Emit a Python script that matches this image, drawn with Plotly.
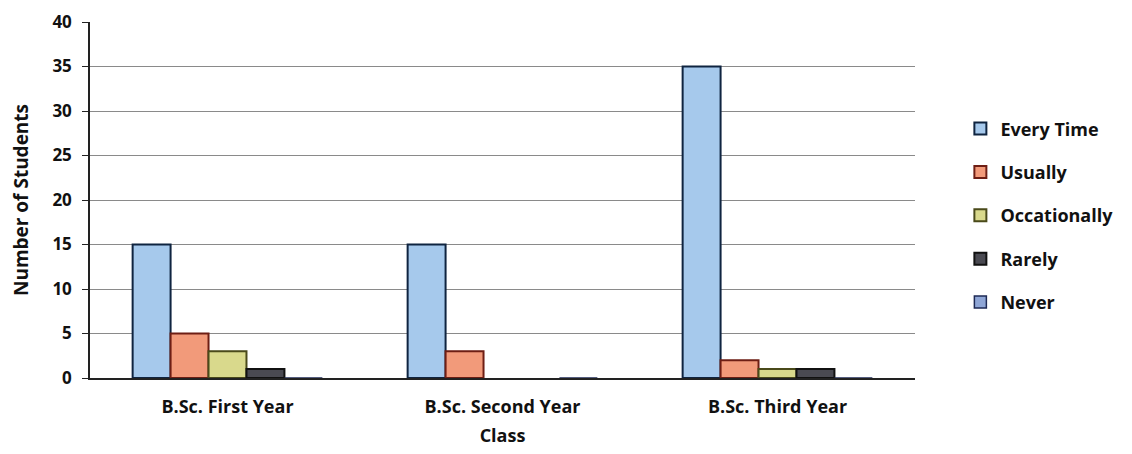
import plotly.graph_objects as go

classes = ["B.Sc. First Year", "B.Sc. Second Year", "B.Sc. Third Year"]
series_names = ["Every Time", "Usually", "Occationally", "Rarely", "Never"]
every_time = [15, 15, 35]
usually = [5, 3, 2]
occationally = [3, 0, 1]
rarely = [1, 0, 1]
never = [0, 0, 0]
y_ticks = [0, 5, 10, 15, 20, 25, 30, 35, 40]

values = [every_time, usually, occationally, rarely, never]
fills = ["#a6c9ec", "#f29a7a", "#d9d98c", "#4a4a52", "#8fa6d6"]
borders = ["#0f2440", "#6e1e14", "#4a4a1a", "#111111", "#1e2a55"]

fig = go.Figure()
for i, (name, vals) in enumerate(zip(series_names, values)):
    if any(v > 0 for v in vals):
        lw = [2 if v > 0 else 0 for v in vals]
    else:
        lw = 1.5
    fig.add_trace(go.Bar(
        x=classes, y=vals, name=name,
        marker=dict(color=fills[i], line=dict(color=borders[i], width=lw)),
        legendgroup=name,
    ))

font_family = "'Open Sans', Lato, sans-serif"
fig.update_layout(
    width=1124, height=446,
    margin=dict(l=82, r=217, t=14, b=76, autoexpand=False),
    paper_bgcolor="white", plot_bgcolor="white",
    barmode="group", bargap=0.31, bargroupgap=0,
    font=dict(family=font_family, size=17, color="#111111", weight="bold"),
    showlegend=True,
    legend=dict(x=1.055, y=0.752, xanchor="left", yanchor="top",
                font=dict(size=18, color="#111111", weight="bold"),
                traceorder="grouped", tracegroupgap=17,
                itemwidth=30),
    xaxis=dict(
        title=dict(text="Class", font=dict(size=18, weight="bold"), standoff=12),
        automargin=False,
        showline=True, linecolor="#222", linewidth=1.5,
        ticks="", tickfont=dict(size=18, weight="bold"),
        ticklabelstandoff=12,
    ),
    yaxis=dict(
        title=dict(text="Number of Students", font=dict(size=19, weight="bold"), standoff=22),
        automargin=False,
        range=[0, 40], tickvals=y_ticks,
        showline=True, linecolor="#222", linewidth=1.5,
        ticks="outside", ticklen=6, tickcolor="#222",
        ticklabelstandoff=7,
        showgrid=True, gridcolor="#8a8a8a", gridwidth=1,
        tickfont=dict(size=17, weight="bold"),
        zeroline=False,
    ),
)

fig.write_html("out.html")
